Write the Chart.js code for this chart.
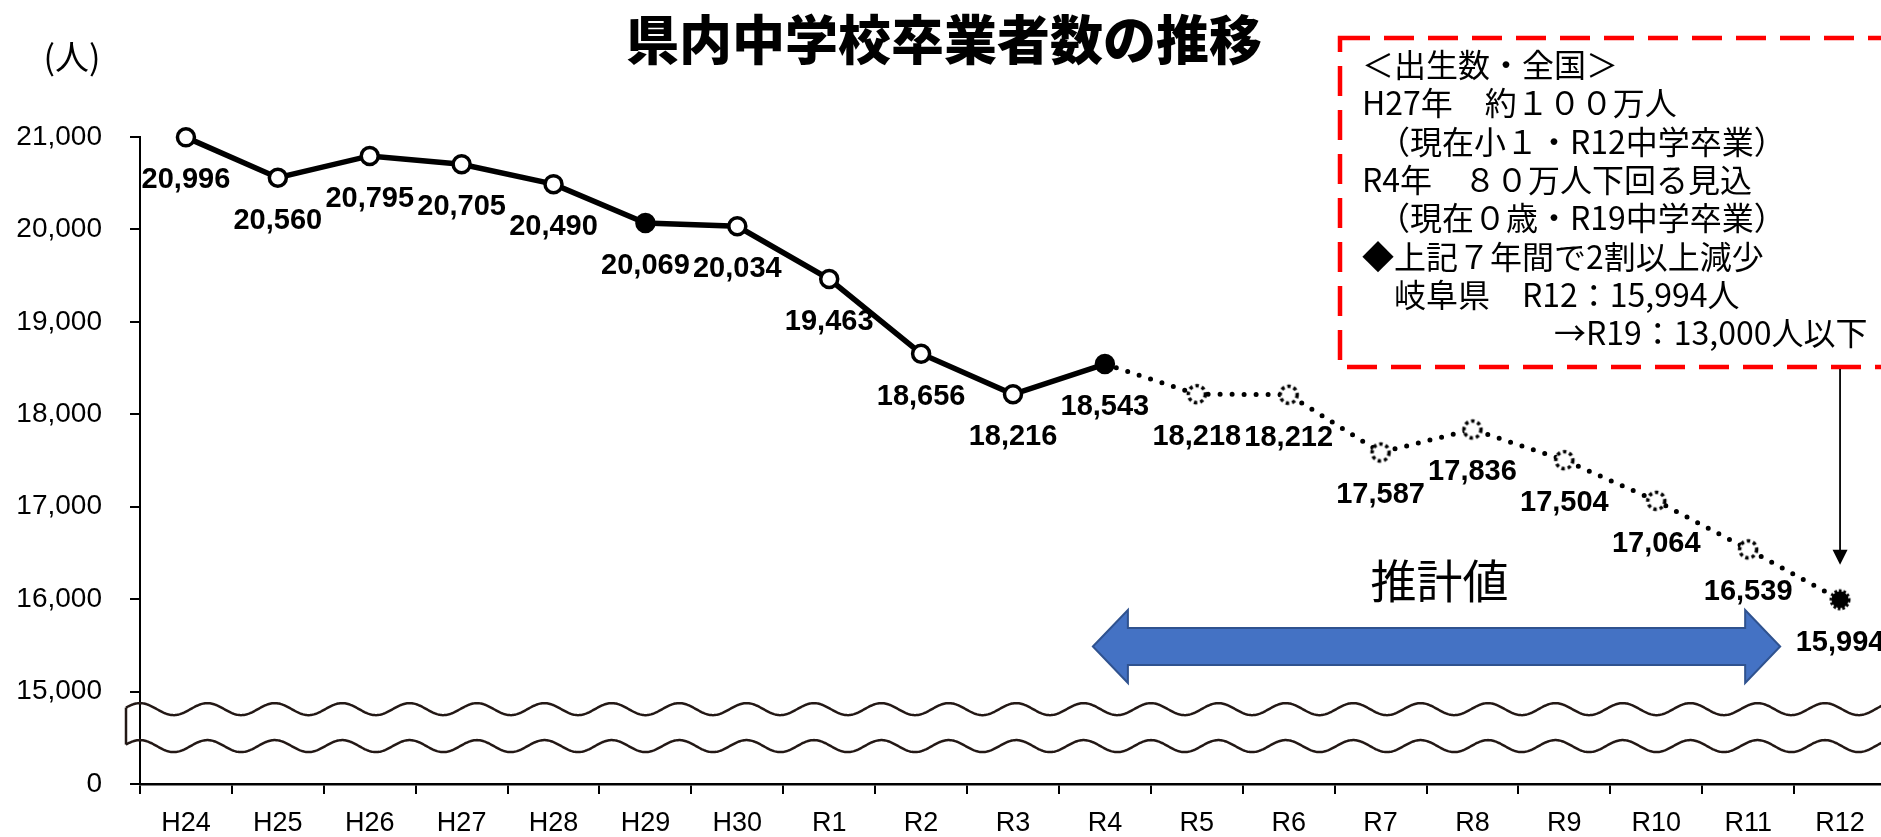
<!DOCTYPE html>
<html lang="ja">
<head>
<meta charset="utf-8">
<title>県内中学校卒業者数の推移</title>
<script src="https://cdn.jsdelivr.net/npm/chart.js@4.4.1/dist/chart.umd.min.js"></script>
<style>
  html, body { margin: 0; padding: 0; background: #fff; overflow: hidden; }
  #wrap { width: 1881px; height: 837px; overflow: hidden; }
</style>
</head>
<body>
<div id="wrap"><canvas id="chart" width="1900" height="837"></canvas></div>
<script>
// 年度（H24〜R12）
const years = ['H24', 'H25', 'H26', 'H27', 'H28', 'H29', 'H30', 'R1', 'R2', 'R3', 'R4',
               'R5', 'R6', 'R7', 'R8', 'R9', 'R10', 'R11', 'R12'];
// 実績 H24〜R4
const actual = [20996, 20560, 20795, 20705, 20490, 20069, 20034, 19463, 18656, 18216, 18543];
// 推計値 R4〜R12
const projected = [18543, 18218, 18212, 17587, 17836, 17504, 17064, 16539, 15994];
const filledYears = ['H29', 'R4'];

// 縦軸（0〜15,000 は省略）
const yTickValues = [14000, 15000, 16000, 17000, 18000, 19000, 20000, 21000];
const yTickLabels = ['0', '15,000', '16,000', '17,000', '18,000', '19,000', '20,000', '21,000'];

const notes = [
    '＜出生数・全国＞',
    'H27年　約１００万人',
    '　（現在小１・R12中学卒業）',
    'R4年　８０万人下回る見込',
    '　（現在０歳・R19中学卒業）',
    '◆上記７年間で2割以上減少',
    '　岐阜県　R12：15,994人',
    '　　　　　　→R19：13,000人以下'
];

const NUM_FONT = '"Liberation Sans", Arial, sans-serif';
const JP_FONT = '"Noto Sans CJK JP", "Noto Sans CJK SC", sans-serif';

const start = actual.length - 1;
const actualData = years.map((_, i) => i < actual.length ? actual[i] : null);
const projData = years.map((_, i) => i < start ? null : projected[i - start]);

// marker images for the projected points
function makeMarker(fill, dash, lw) {
    const c = document.createElement('canvas');
    c.width = 26; c.height = 26;
    const g = c.getContext('2d');
    g.beginPath();
    g.arc(13, 13, 8.5, 0, Math.PI * 2);
    g.fillStyle = fill;
    g.fill();
    g.setLineDash(dash);
    g.lineWidth = lw;
    g.strokeStyle = '#000';
    g.stroke();
    return c;
}
const ring = makeMarker('#fff', [3.4, 3], 3.5);
const blackDot = makeMarker('#000', [2.5, 1.8], 4);

const valueLabels = {
    id: 'valueLabels',
    afterDatasetsDraw(chart) {
        const ctx = chart.ctx;
        ctx.save();
        ctx.font = 'bold 29px ' + NUM_FONT;
        ctx.fillStyle = '#000';
        ctx.textAlign = 'center';
        ctx.textBaseline = 'middle';
        chart.data.datasets.forEach((ds, di) => {
            chart.getDatasetMeta(di).data.forEach((pt, i) => {
                const v = ds.data[i];
                if (v == null) return;
                if (di === 1 && i === start) return;
                ctx.fillText(v.toLocaleString('en-US'), pt.x, pt.y + 43);
            });
        });
        ctx.restore();
    }
};

function wave(ctx, x0, x1, yc, amp, period, phaseX) {
    ctx.beginPath();
    for (let x = x0; x <= x1; x += 1) {
        const y = yc - amp * Math.cos(2 * Math.PI * (x - phaseX) / period);
        if (x === x0) ctx.moveTo(x, y); else ctx.lineTo(x, y);
    }
    ctx.stroke();
}

const decor = {
    id: 'decor',
    afterDraw(chart) {
        const ctx = chart.ctx;
        const xs = chart.scales.x, ys = chart.scales.y;
        const area = chart.chartArea;
        ctx.save();

        // axis break
        const yTop = ys.getPixelForValue(14810);
        const yBot = ys.getPixelForValue(14410);
        const x0 = area.left - 14;
        const per = 67.4, amp = 6;
        ctx.strokeStyle = '#231815';
        ctx.lineWidth = 2.5;
        wave(ctx, x0, chart.width, yTop, amp, per, area.left);
        wave(ctx, x0, chart.width, yBot, amp, per, area.left);
        const ph = amp * Math.cos(2 * Math.PI * (x0 - area.left) / per);
        ctx.beginPath();
        ctx.moveTo(x0, yTop - ph);
        ctx.lineTo(x0, yBot - ph);
        ctx.stroke();

        // (人)
        ctx.fillStyle = '#000';
        ctx.font = '34px ' + JP_FONT;
        ctx.textAlign = 'center';
        ctx.textBaseline = 'middle';
        ctx.fillText('(人)', 72, 57);

        // blue double arrow (推計値)
        const xa = xs.getPixelForValue(start);
        const xb = xs.getPixelForValue(years.length - 2);
        const yc = ys.getPixelForValue(15488);
        const bh = 18.5, hh = 36.5;
        ctx.beginPath();
        ctx.moveTo(xa - 12, yc);
        ctx.lineTo(xa + 23, yc - hh);
        ctx.lineTo(xa + 23, yc - bh);
        ctx.lineTo(xb - 3, yc - bh);
        ctx.lineTo(xb - 3, yc - hh);
        ctx.lineTo(xb + 32, yc);
        ctx.lineTo(xb - 3, yc + hh);
        ctx.lineTo(xb - 3, yc + bh);
        ctx.lineTo(xa + 23, yc + bh);
        ctx.lineTo(xa + 23, yc + hh);
        ctx.closePath();
        ctx.fillStyle = '#4472C4';
        ctx.fill();
        ctx.lineWidth = 2;
        ctx.strokeStyle = '#2F528F';
        ctx.stroke();

        ctx.fillStyle = '#000';
        ctx.font = '46px ' + JP_FONT;
        ctx.fillText('推計値', (xa + xb) / 2 + 13, ys.getPixelForValue(16200));

        // notes box
        const bx = 1340, by = 38, bb = 367;
        ctx.strokeStyle = '#FF0000';
        ctx.lineWidth = 4.5;
        ctx.setLineDash([30, 14]);
        ctx.strokeRect(bx, by, chart.width + 20 - bx, bb - by);
        ctx.setLineDash([]);

        ctx.fillStyle = '#000';
        ctx.font = '32px ' + JP_FONT;
        ctx.textAlign = 'left';
        notes.forEach((t, i) => ctx.fillText(t, 1362, 65 + i * 38.3));

        // arrow down to R12
        const last = chart.getDatasetMeta(1).data[years.length - 1];
        const tipY = last.y - 35;
        ctx.strokeStyle = '#000';
        ctx.lineWidth = 1.8;
        ctx.beginPath();
        ctx.moveTo(last.x, bb + 2);
        ctx.lineTo(last.x, tipY - 14);
        ctx.stroke();
        ctx.beginPath();
        ctx.moveTo(last.x - 7.5, tipY - 15);
        ctx.lineTo(last.x + 7.5, tipY - 15);
        ctx.lineTo(last.x, tipY);
        ctx.closePath();
        ctx.fillStyle = '#000';
        ctx.fill();

        ctx.restore();
    }
};

Chart.defaults.font.family = NUM_FONT;
Chart.defaults.color = '#000';

new Chart(document.getElementById('chart'), {
    type: 'line',
    data: {
        labels: years,
        datasets: [
            {
                label: '実績',
                data: actualData,
                borderColor: '#000',
                borderWidth: 5.5,
                pointRadius: 8.5,
                pointBorderWidth: 3.5,
                pointBorderColor: '#000',
                pointBackgroundColor: years.map(y => filledYears.includes(y) ? '#000' : '#fff'),
                clip: false
            },
            {
                label: '推計値',
                data: projData,
                borderColor: '#000',
                borderWidth: 5,
                borderDash: [0, 12],
                borderCapStyle: 'round',
                pointRadius: years.map((_, i) => i === start ? 0 : 9),
                pointStyle: years.map((_, i) => i === years.length - 1 ? blackDot : ring),
                clip: false
            }
        ]
    },
    options: {
        responsive: false,
        animation: false,
        layout: { padding: { top: 0, right: 12, bottom: 0, left: 0 } },
        plugins: {
            legend: { display: false },
            tooltip: { enabled: false },
            title: {
                display: true,
                text: '県内中学校卒業者数の推移',
                font: { family: JP_FONT, size: 53, weight: 900 },
                color: '#000',
                padding: { top: 8, bottom: 65.4 }
            }
        },
        scales: {
            x: {
                offset: true,
                grid: { offset: true, drawOnChartArea: false, tickLength: 10, color: '#000', lineWidth: 2 },
                border: { color: '#000', width: 2.5 },
                ticks: { font: { size: 27 }, padding: 13, maxRotation: 0, autoSkip: false },
                afterFit: s => { s.height = 53; }
            },
            y: {
                min: yTickValues[0],
                max: yTickValues[yTickValues.length - 1],
                afterBuildTicks: s => { s.ticks = yTickValues.map(v => ({ value: v })); },
                grid: { drawOnChartArea: false, tickLength: 10, color: '#000', lineWidth: 2 },
                border: { color: '#000', width: 2 },
                ticks: {
                    font: { size: 28 },
                    padding: 28,
                    callback: v => yTickLabels[yTickValues.indexOf(v)]
                },
                afterFit: s => { s.width = 140; }
            }
        }
    },
    plugins: [valueLabels, decor]
});
</script>
</body>
</html>
